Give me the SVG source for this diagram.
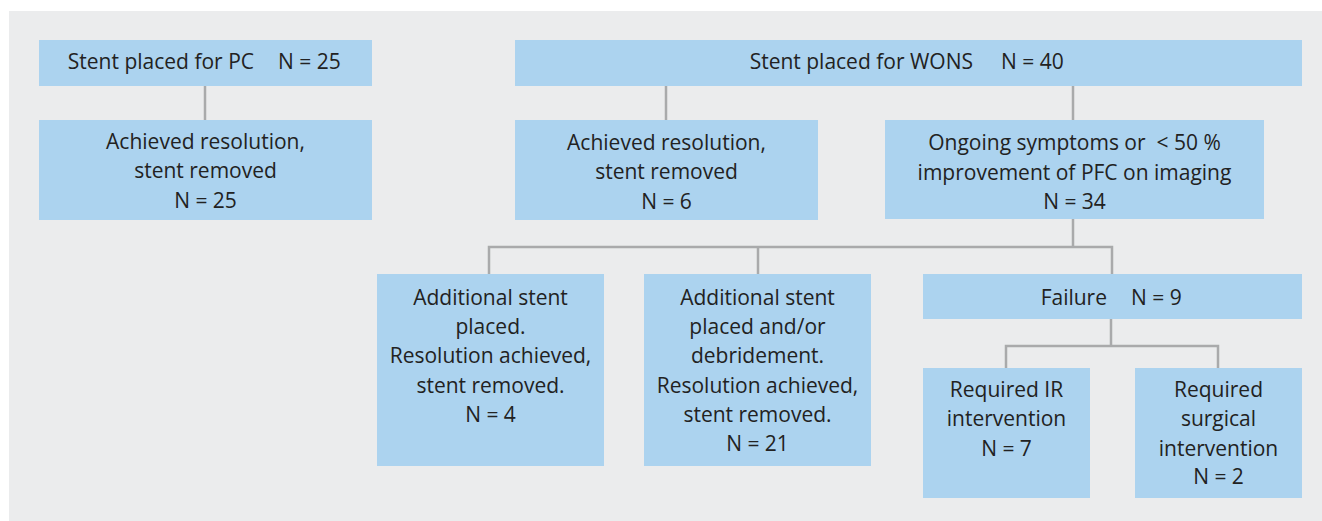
<svg xmlns="http://www.w3.org/2000/svg" width="1322" height="521" viewBox="0 0 1322 521">
<style>
.bg{fill:#ebeced}
.box{fill:#acd3ef}
.t{font-family:"Open Sans","Noto Sans",sans-serif;font-size:21px;fill:#222;text-anchor:middle}
.ts{text-anchor:start}
.te{text-anchor:end}
.pre{white-space:pre}
.ln{stroke:#a9aaab;stroke-width:2.5;fill:none}
</style>
<rect class="bg" x="9" y="11" width="1313" height="510"/>
<g id="connectors">
<path class="ln" d="M205,86V120"/>
<path class="ln" d="M666,86V120"/>
<path class="ln" d="M1073,86V120"/>
<path class="ln" d="M1073,219V247M489,274V247H1112V274M758,247V274"/>
<path class="ln" d="M1111,319V346M1006,368V346H1218V368"/>
</g>
<g id="pc">
<rect class="box" x="39" y="40" width="333" height="46"/>
<text class="t"><tspan class="te" x="254" y="69">Stent placed for PC</tspan><tspan class="ts" x="278" y="69">N = 25</tspan></text>
</g>
<g id="pc-resolved">
<rect class="box" x="39" y="120" width="333" height="100"/>
<text class="t" x="205.5" y="149">Achieved resolution,</text>
<text class="t" x="205.5" y="178">stent removed</text>
<text class="t" x="205.5" y="208">N = 25</text>
</g>
<g id="wons">
<rect class="box" x="515" y="40" width="787" height="46"/>
<text class="t"><tspan class="te" x="973" y="69">Stent placed for WONS</tspan><tspan class="ts" x="1001" y="69">N = 40</tspan></text>
</g>
<g id="wons-resolved">
<rect class="box" x="515" y="120" width="303" height="100"/>
<text class="t" x="666.5" y="150">Achieved resolution,</text>
<text class="t" x="666.5" y="179">stent removed</text>
<text class="t" x="666.5" y="209">N = 6</text>
</g>
<g id="ongoing">
<rect class="box" x="885" y="120" width="379" height="99"/>
<text class="t pre" x="1074.5" y="150">Ongoing symptoms or  &lt; 50 %</text>
<text class="t" x="1074.5" y="180">improvement of PFC on imaging</text>
<text class="t" x="1074.5" y="209">N = 34</text>
</g>
<g id="additional-stent">
<rect class="box" x="377" y="274" width="227" height="192"/>
<text class="t" x="490.5" y="305">Additional stent</text>
<text class="t" x="490.5" y="334">placed.</text>
<text class="t" x="490.5" y="363">Resolution achieved,</text>
<text class="t" x="490.5" y="393">stent removed.</text>
<text class="t" x="490.5" y="422">N = 4</text>
</g>
<g id="debridement">
<rect class="box" x="644" y="274" width="227" height="192"/>
<text class="t" x="757.5" y="305">Additional stent</text>
<text class="t" x="757.5" y="334">placed and/or</text>
<text class="t" x="757.5" y="363">debridement.</text>
<text class="t" x="757.5" y="393">Resolution achieved,</text>
<text class="t" x="757.5" y="422">stent removed.</text>
<text class="t" x="757.5" y="451">N = 21</text>
</g>
<g id="failure">
<rect class="box" x="923" y="274" width="379" height="45"/>
<text class="t"><tspan class="te" x="1107" y="305">Failure</tspan><tspan class="ts" x="1131" y="305">N = 9</tspan></text>
</g>
<g id="ir">
<rect class="box" x="923" y="368" width="167" height="130"/>
<text class="t" x="1006.5" y="397">Required IR</text>
<text class="t" x="1006.5" y="426">intervention</text>
<text class="t" x="1006.5" y="456">N = 7</text>
</g>
<g id="surgical">
<rect class="box" x="1135" y="368" width="167" height="130"/>
<text class="t" x="1218.5" y="397">Required</text>
<text class="t" x="1218.5" y="426">surgical</text>
<text class="t" x="1218.5" y="456">intervention</text>
<text class="t" x="1218.5" y="484">N = 2</text>
</g>
</svg>
